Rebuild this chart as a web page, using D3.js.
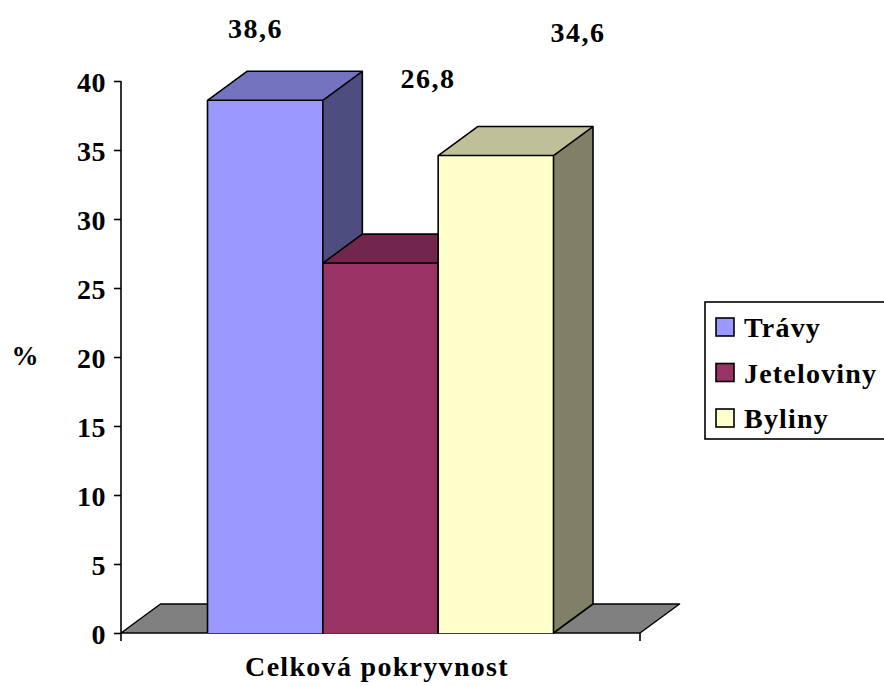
<!DOCTYPE html>
<html>
<head>
<meta charset="utf-8">
<script src="https://cdn.jsdelivr.net/npm/d3@7"></script>
<style>
  html, body { margin: 0; padding: 0; background: #fff; }
  svg text { font-family: "Liberation Serif", "Times New Roman", serif; font-weight: bold; fill: #000; }
</style>
</head>
<body>
<svg id="chart" width="884" height="686"></svg>
<script>
// Data
const categories = ["Celková pokryvnost"];
const seriesNames = ["Trávy", "Jeteloviny", "Byliny"];
const seriesValues = [38.6, 26.8, 34.6];
const yTicks = [0, 5, 10, 15, 20, 25, 30, 35, 40];
const valueLabels = ["38,6", "26,8", "34,6"];

// Colours: front, top, side faces
const frontColors = ["#9999FF", "#993366", "#FFFFCC"];
const topColors = ["#7373BF", "#73264D", "#BFBF99"];
const sideColors = ["#4D4D80", "#4D1A33", "#808066"];

const svg = d3.select("#chart");

// Layout
const plotLeft = 121, plotRight = 640, baseY = 633, topY = 81;
const depthX = 39.5, depthY = -29;

const y = d3.scaleLinear().domain([0, 40]).range([baseY, topY]);
const x0 = d3.scaleBand().domain(categories).range([plotLeft, plotRight]).paddingInner(0).paddingOuter(0.25);
const x1 = d3.scaleBand().domain(seriesNames).range([0, x0.bandwidth()]).padding(0);

// Floor
const floor = [
  [plotLeft, baseY], [plotRight, baseY],
  [plotRight + depthX, baseY + depthY], [plotLeft + depthX, baseY + depthY]
];
svg.append("polygon")
  .attr("points", floor.map(p => p.join(",")).join(" "))
  .attr("fill", "#808080")
  .attr("stroke", "#000")
  .attr("stroke-width", 1.5)
  .attr("stroke-linejoin", "round");

// Bars, painted left to right so each one overlaps the previous side face
const bars = svg.append("g");
seriesNames.forEach((name, i) => {
  const cat = categories[0];
  const xl = x0(cat) + x1(name);
  const xr = xl + x1.bandwidth();
  const yt = y(seriesValues[i]);
  const yb = y(0);
  const g = bars.append("g");
  const poly = pts => pts.map(p => p.join(",")).join(" ");
  g.append("polygon")
    .attr("points", poly([[xr, yt], [xr + depthX, yt + depthY], [xr + depthX, yb + depthY], [xr, yb]]))
    .attr("fill", sideColors[i]);
  g.append("polygon")
    .attr("points", poly([[xl, yt], [xl + depthX, yt + depthY], [xr + depthX, yt + depthY], [xr, yt]]))
    .attr("fill", topColors[i]);
  g.append("rect")
    .attr("x", xl).attr("y", yt)
    .attr("width", xr - xl).attr("height", yb - yt)
    .attr("fill", frontColors[i]);
  // outlines
  g.append("path")
    .attr("d", `M${xl},${yb}V${yt}L${xl + depthX},${yt + depthY}H${xr + depthX}V${yb + depthY}L${xr},${yb}V${yt}H${xl}M${xr},${yt}L${xr + depthX},${yt + depthY}`)
    .attr("fill", "none")
    .attr("stroke", "#000")
    .attr("stroke-width", 1.6)
    .attr("stroke-linejoin", "round");
});

// Value axis
const yAxis = d3.axisLeft(y).tickValues(yTicks).tickSize(7).tickPadding(8).tickFormat(d3.format("d"));
const ya = svg.append("g").attr("transform", `translate(${plotLeft},0)`).call(yAxis);
ya.select(".domain").attr("stroke", "#000").attr("stroke-width", 1.6).attr("d", `M0,${topY}V${baseY + 8}`);
ya.selectAll(".tick line").attr("stroke", "#000").attr("stroke-width", 1.6);
ya.selectAll(".tick text")
  .attr("font-size", 28)
  .style("letter-spacing", "0.5px")
  .attr("dy", "0.36em");

// Category axis end tick
svg.append("line")
  .attr("x1", plotRight).attr("x2", plotRight)
  .attr("y1", baseY).attr("y2", baseY + 8)
  .attr("stroke", "#000").attr("stroke-width", 1.6);

// Value labels
const labelAnchors = [[255.5, 38], [428, 88], [578, 42]];
svg.append("g").selectAll("text")
  .data(valueLabels)
  .join("text")
  .attr("x", (d, i) => labelAnchors[i][0])
  .attr("y", (d, i) => labelAnchors[i][1])
  .attr("text-anchor", "middle")
  .attr("font-size", 28)
  .style("letter-spacing", "1.5px")
  .text(d => d);

// Axis titles
svg.append("text")
  .attr("x", 377).attr("y", 676)
  .attr("text-anchor", "middle")
  .attr("font-size", 28)
  .style("letter-spacing", "1.3px")
  .text(categories[0]);

svg.append("text")
  .attr("x", 25).attr("y", 365)
  .attr("text-anchor", "middle")
  .attr("font-size", 27)
  .text("%");

// Legend
const legend = svg.append("g");
legend.append("rect")
  .attr("x", 705).attr("y", 302)
  .attr("width", 190).attr("height", 137)
  .attr("fill", "#fff")
  .attr("stroke", "#000")
  .attr("stroke-width", 1.6);
const ly = d3.scalePoint().domain(seriesNames).range([327, 418]);
seriesNames.forEach((name, i) => {
  legend.append("rect")
    .attr("x", 716).attr("y", ly(name) - 9)
    .attr("width", 18).attr("height", 18)
    .attr("fill", frontColors[i])
    .attr("stroke", "#000")
    .attr("stroke-width", 1.6);
  legend.append("text")
    .attr("x", 744).attr("y", ly(name) + 10)
    .attr("font-size", 28)
    .style("letter-spacing", "1.2px")
    .text(name);
});
</script>
</body>
</html>
